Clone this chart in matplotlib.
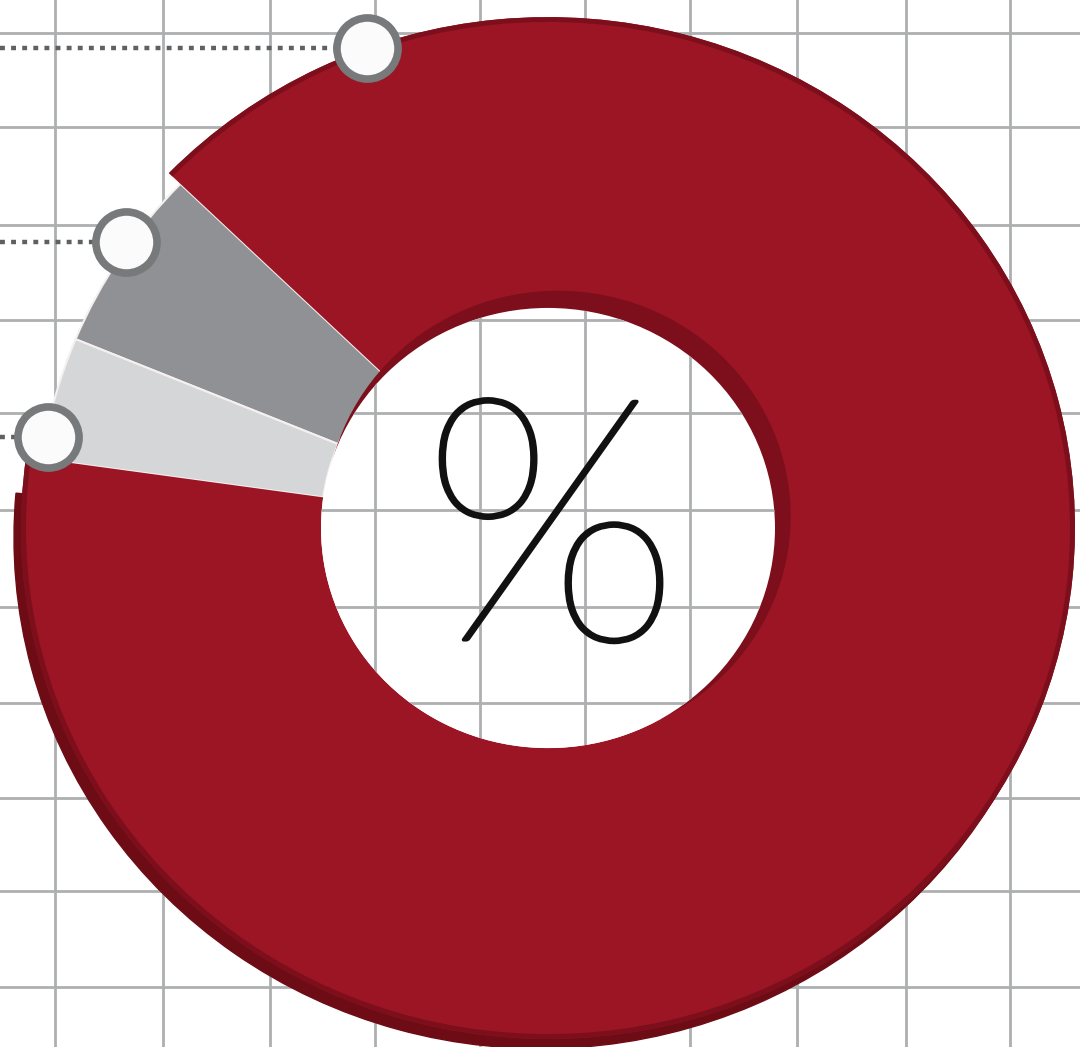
#!/usr/bin/env python3
"""Donut chart on a squared-paper background with a big % in the hole."""
import matplotlib

matplotlib.use("Agg")
import matplotlib.patheffects as pe
import matplotlib.pyplot as plt
import numpy as np
from matplotlib.patches import Circle, Wedge

W, H = 1080, 1047
YS = W / H  # data y is stretched a bit so the ring comes out slightly wide

# slices: gray, light gray, red (percent)
SHARES = [6, 4, 90]
COLORS = ["#8f9194", "#d4d6d8", "#9b1524"]
START_ANGLE = 136

# callout dots sit on the outer rim at these angles (deg)
CALLOUT_ANGLES = [110.1, 145.1, 169.4]
CALLOUT_RADII = [527, 515, 509]
CALLOUT_LEAD_END = [335, 95, 18]  # dotted leader runs from the left edge to here (px)

# squared paper (pixel positions)
GRID_X = [55, 163, 270, 375, 480, 585, 690, 797, 906, 1010]
GRID_Y = [33, 127, 225, 320, 413, 510, 607, 703, 798, 891, 987]

R_OUT = 527
R_IN = 227
R_GRAY = 511

GRID_COL = "#adafb1"
DARK_RED = "#6e0c16"
WALL_RED = "#7c0f1b"


def py(y_px):
    return (H - y_px) * YS


CX, CY = 548, py(528)

fig = plt.figure(figsize=(W / 100, H / 100), dpi=100)
ax = fig.add_axes([0, 0, 1, 1])
ax.set_xlim(0, W)
ax.set_ylim(0, W)
ax.set_axis_off()

for x in GRID_X:
    ax.axvline(x, color=GRID_COL, lw=2.0, zorder=0)
for y in GRID_Y:
    ax.axhline(py(y), color=GRID_COL, lw=2.0, zorder=0)

red_t1 = START_ANGLE + 360 * (SHARES[0] + SHARES[1]) / 100
red_t2 = START_ANGLE + 360

# side of the ring, seen at the lower left (only under the red piece)
ax.add_patch(Wedge((CX - 7, CY - 10), R_OUT, red_t1 + 3, red_t2 - 4,
                   width=R_OUT - R_IN, color=DARK_RED, zorder=1))

radii = [R_GRAY, R_GRAY, R_OUT]
edges = ["#f6f0f0", "#f6f0f0", "none"]
for share, col, r, ec, off in zip(SHARES, COLORS, radii, edges,
                                  np.cumsum([0] + SHARES[:-1])):
    t1 = START_ANGLE + 360 * off / 100
    t2 = t1 + 360 * share / 100
    ax.add_patch(Wedge((CX, CY), r, t1, t2, width=r - R_IN, facecolor=col,
                       edgecolor=ec, lw=1.5, zorder=2))

# dark rim on the red piece
ax.add_patch(Wedge((CX, CY), R_OUT, red_t1, red_t2, width=5,
                   facecolor=WALL_RED, edgecolor="none", zorder=3))

# inner wall of the hole (upper right) then the hole itself
ax.add_patch(Circle((CX + 10, CY + 12), R_IN + 5, color=WALL_RED, zorder=3))
hole = Circle((CX, CY), R_IN, facecolor="white", edgecolor="none", zorder=4)
ax.add_patch(hole)
for x in GRID_X:
    ln = ax.axvline(x, color=GRID_COL, lw=2.0, zorder=5)
    ln.set_clip_path(hole)
for y in GRID_Y:
    ln = ax.axhline(py(y), color=GRID_COL, lw=2.0, zorder=5)
    ln.set_clip_path(hole)

ax.text(CX + 3, py(548), "%", fontsize=245, family=["Lato", "DejaVu Sans"],
        fontweight="light", ha="center", va="center", color="#111111", zorder=6,
        path_effects=[pe.withStroke(linewidth=2.6, foreground="#111111")])

# callouts
for ang, r, lead in zip(CALLOUT_ANGLES, CALLOUT_RADII, CALLOUT_LEAD_END):
    a = np.deg2rad(ang)
    xd = CX + r * np.cos(a)
    yd = CY + r * np.sin(a)
    ax.plot([0, lead], [yd, yd], color="#5f6062", lw=3.2,
            linestyle=(0, (1.1, 1.4)), zorder=6, solid_capstyle="butt")
    ax.plot([xd], [yd], marker="o", markersize=44, markerfacecolor="#fbfbfb",
            markeredgecolor="#77797b", markeredgewidth=5.5, zorder=7)

fig.savefig("out.png", dpi=100)
